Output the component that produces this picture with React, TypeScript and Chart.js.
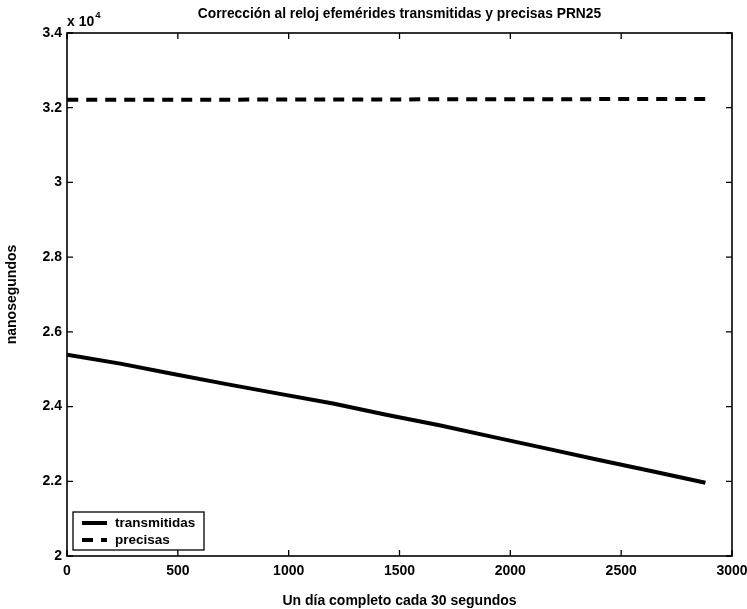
import React, { useEffect, useRef } from "react";
import { Chart, registerables } from "chart.js";

Chart.register(...registerables);

// Sample index (one sample every 30 s over a day)
const sampleIdx = [1, 240, 480, 720, 960, 1200, 1440, 1680, 1920, 2160, 2400, 2640, 2880];
// Clock correction from broadcast ephemerides (ns)
const transmitidas = [25390, 25150, 24870, 24600, 24340, 24080, 23780, 23500, 23190, 22880, 22570, 22270, 21960];
// Clock correction from precise ephemerides (ns)
const precisas = [32210, 32212, 32214, 32216, 32218, 32220, 32222, 32224, 32226, 32228, 32230, 32232, 32234];

const xTicks = [0, 500, 1000, 1500, 2000, 2500, 3000];
const yTicks = [20000, 22000, 24000, 26000, 28000, 30000, 32000, 34000];

const chartTitle = "Corrección al reloj efemérides transmitidas y precisas PRN25";
const xTitle = "Un día completo cada 30 segundos";
const yTitle = "nanosegundos";

const FONT = '"Liberation Sans", Arial, Helvetica, sans-serif';

const decorations = {
  id: "matlabDecorations",
  beforeDraw(chart: any) {
    const ctx = chart.ctx;
    ctx.save();
    ctx.fillStyle = "#ffffff";
    ctx.fillRect(0, 0, chart.width, chart.height);
    ctx.restore();
  },
  afterDraw(chart: any) {
    const ctx = chart.ctx;
    const { left, right, top, bottom } = chart.chartArea;
    const xs = chart.scales.x;
    const ys = chart.scales.y;
    ctx.save();
    ctx.strokeStyle = "#000";
    ctx.fillStyle = "#000";

    // box
    ctx.lineWidth = 1.6;
    ctx.strokeRect(left, top, right - left, bottom - top);

    // inward ticks on all sides
    const tl = 6;
    ctx.lineWidth = 1.3;
    ctx.beginPath();
    for (const v of xTicks) {
      const px = xs.getPixelForValue(v);
      ctx.moveTo(px, bottom);
      ctx.lineTo(px, bottom - tl);
      ctx.moveTo(px, top);
      ctx.lineTo(px, top + tl);
    }
    for (const v of yTicks) {
      const py = ys.getPixelForValue(v);
      ctx.moveTo(left, py);
      ctx.lineTo(left + tl, py);
      ctx.moveTo(right, py);
      ctx.lineTo(right - tl, py);
    }
    ctx.stroke();

    // title
    ctx.font = `bold 13.8px ${FONT}`;
    ctx.textAlign = "center";
    ctx.textBaseline = "middle";
    ctx.fillText(chartTitle, (left + right) / 2, 14);

    // x-axis title
    ctx.font = `bold 14px ${FONT}`;
    ctx.fillText(xTitle, (left + right) / 2, 601);

    // y-axis title
    ctx.save();
    ctx.translate(12, (top + bottom) / 2);
    ctx.rotate(-Math.PI / 2);
    ctx.fillText(yTitle, 0, 0);
    ctx.restore();

    // exponent
    ctx.textAlign = "left";
    ctx.font = `bold 14px ${FONT}`;
    ctx.fillText("x 10", left, 22);
    const w = ctx.measureText("x 10").width;
    ctx.font = `bold 9.5px ${FONT}`;
    ctx.fillText("4", left + w + 1, 15);

    // legend
    const lx = 73, ly = 512, lw = 131, lh = 38;
    ctx.fillStyle = "#fff";
    ctx.fillRect(lx, ly, lw, lh);
    ctx.lineWidth = 1.3;
    ctx.strokeStyle = "#000";
    ctx.strokeRect(lx, ly, lw, lh);
    ctx.fillStyle = "#000";
    ctx.font = `bold 13.5px ${FONT}`;
    ctx.textBaseline = "middle";
    chart.data.datasets.forEach((ds: any, i: number) => {
      const yy = ly + 11 + i * 17;
      ctx.beginPath();
      ctx.lineWidth = 4;
      ctx.setLineDash(ds.borderDash || []);
      ctx.moveTo(lx + 9, yy);
      ctx.lineTo(lx + 34, yy);
      ctx.stroke();
      ctx.setLineDash([]);
      ctx.fillText(ds.label, lx + 42, yy);
    });

    ctx.restore();
  },
};

export default function App() {
  const ref = useRef<HTMLCanvasElement | null>(null);

  useEffect(() => {
    if (!ref.current) return;
    const chart = new Chart(ref.current, {
      type: "line",
      data: {
        datasets: [
          {
            label: "transmitidas",
            data: sampleIdx.map((x, i) => ({ x, y: transmitidas[i] })),
            borderColor: "#000",
            borderWidth: 4,
            pointRadius: 0,
            fill: false,
            tension: 0,
          },
          {
            label: "precisas",
            data: sampleIdx.map((x, i) => ({ x, y: precisas[i] })),
            borderColor: "#000",
            borderWidth: 4,
            borderDash: [11, 8],
            pointRadius: 0,
            fill: false,
            tension: 0,
          },
        ],
      },
      options: {
        responsive: false,
        animation: false,
        layout: { padding: { left: 0, top: 33, right: 15, bottom: 0 } },
        plugins: {
          legend: { display: false },
          title: { display: false },
          tooltip: { enabled: false },
        },
        scales: {
          x: {
            type: "linear",
            min: 0,
            max: 3000,
            afterBuildTicks: (s: any) => {
              s.ticks = xTicks.map((v) => ({ value: v }));
            },
            afterFit: (s: any) => {
              s.height = 53;
              s.paddingLeft = 0;
              s.paddingRight = 0;
            },
            grid: { display: false, drawTicks: false },
            border: { display: false },
            ticks: {
              color: "#000",
              padding: 7,
              maxRotation: 0,
              autoSkip: false,
              font: { family: FONT, size: 14, weight: "bold" },
              callback: (v: any) => String(v),
            },
          },
          y: {
            type: "linear",
            min: 20000,
            max: 34000,
            afterBuildTicks: (s: any) => {
              s.ticks = yTicks.map((v) => ({ value: v }));
            },
            afterFit: (s: any) => {
              s.width = 67;
              s.paddingTop = 0;
              s.paddingBottom = 0;
            },
            grid: { display: false, drawTicks: false },
            border: { display: false },
            ticks: {
              color: "#000",
              padding: 5,
              autoSkip: false,
              font: { family: FONT, size: 14, weight: "bold" },
              callback: (v: any) => String(Number(v) / 10000),
            },
          },
        },
      },
      plugins: [decorations],
    });
    return () => chart.destroy();
  }, []);

  return (
    <div style={{ position: "absolute", left: 0, top: 0, width: 747, height: 609 }}>
      <canvas ref={ref} width={747} height={609} style={{ display: "block" }} />
    </div>
  );
}
